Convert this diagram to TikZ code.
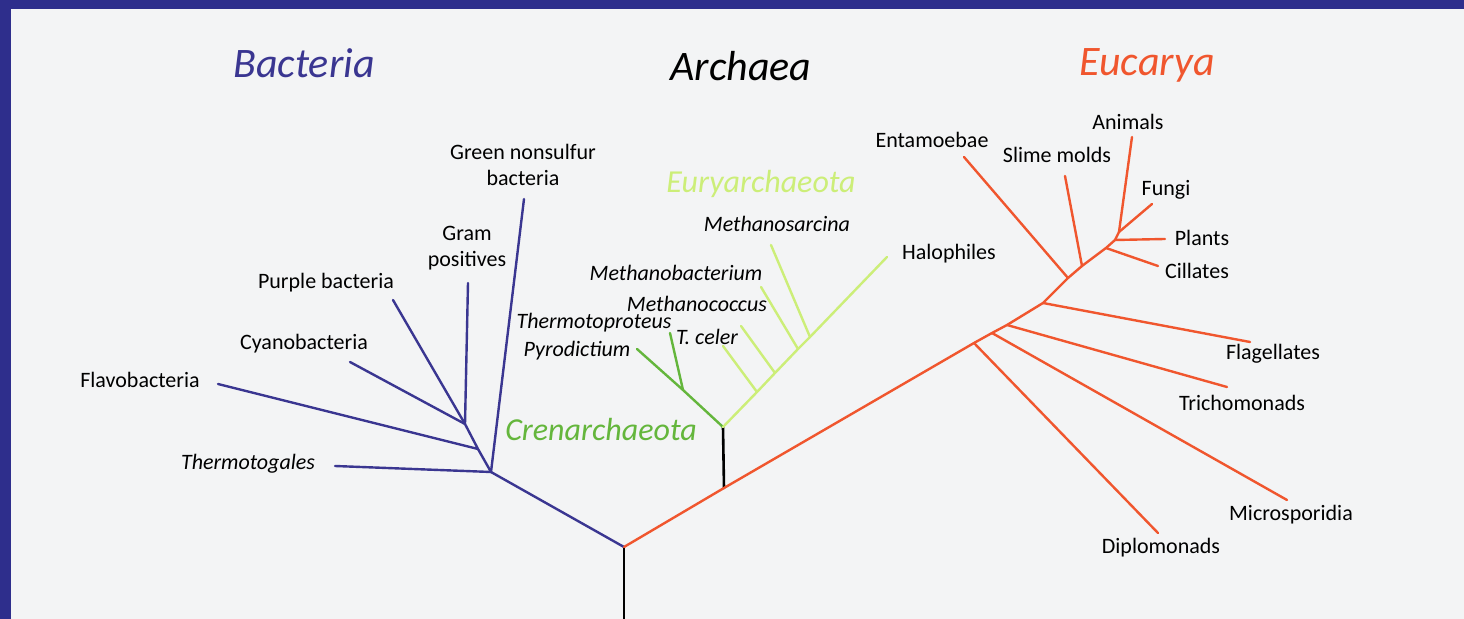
\documentclass[tikz,border=0pt]{standalone}
\usepackage{fontspec}
\setmainfont{Carlito}
\usepackage{xcolor}
\usepackage{tikz}
\usetikzlibrary{positioning, calc}

\definecolor{bactblue}{RGB}{58,54,145}
\definecolor{eukred}{RGB}{240,86,46}
\definecolor{crengreen}{RGB}{100,182,60}
\definecolor{eurygreen}{RGB}{204,238,120}
\definecolor{slidebg}{RGB}{243,244,245}
\definecolor{slideframe}{RGB}{46,46,140}

\begin{document}
\begin{tikzpicture}[x=0.5pt, y=-0.5pt,
    branch/.style={line width=1.2pt, line cap=round, line join=round},
    bact/.style={branch, bactblue},
    euk/.style={branch, eukred},
    cren/.style={branch, crengreen},
    eury/.style={branch, eurygreen},
    stem/.style={branch, black, line width=1.3pt},
    lbl/.style={font=\fontsize{11}{13}\selectfont, align=center, inner sep=0pt},
    ilbl/.style={lbl, font=\fontsize{11}{13}\selectfont\itshape},
    group/.style={font=\fontsize{16}{19}\selectfont\itshape, inner sep=0pt},
    title/.style={font=\fontsize{21}{25}\selectfont\itshape, inner sep=0pt}
  ]

  % --- SLIDE BACKGROUND ---
  \useasboundingbox (0,0) rectangle (1464,619);
  \fill[slidebg] (0,0) rectangle (1464,619);
  \fill[slideframe] (0,0) rectangle (1464,9);
  \fill[slideframe] (0,0) rectangle (11,619);

  % --- DOMAIN TITLES ---
  \node[title, text=bactblue] (tBact) at (304,63) {Bacteria};
  \node[title, text=black] (tArch) at (741,66) {Archaea};
  \node[title, text=eukred] (tEuk) at (1147,65) {Eucarya};

  % --- ROOT ---
  \coordinate (root) at (624,547);
  \coordinate (base) at (624,619);
  \draw[stem] (root) -- (base);

  % --- BACTERIA ---
  \coordinate (b1) at (491,472);
  \coordinate (b2) at (478,449);
  \coordinate (b3) at (465,424);
  \coordinate (thermotogales) at (335,466);
  \coordinate (flavo) at (218,384);
  \coordinate (cyano) at (350,362);
  \coordinate (purple) at (393,300);
  \coordinate (gram) at (468,283);
  \coordinate (greenns) at (524,199);

  \draw[bact] (root) -- (b1) -- (b2) -- (b3);
  \draw[bact] (b1) -- (thermotogales);
  \draw[bact] (b1) -- (greenns);
  \draw[bact] (b2) -- (flavo);
  \draw[bact] (b3) -- (cyano);
  \draw[bact] (b3) -- (purple);
  \draw[bact] (b3) -- (gram);

  \node[ilbl] (lThermotogales) at (248,464) {Thermotogales};
  \node[lbl] (lFlavo) at (140,380) {Flavobacteria};
  \node[lbl] (lCyano) at (304,344) {Cyanobacteria};
  \node[lbl] (lPurple) at (326,283) {Purple bacteria};
  \node[lbl] (lGram) at (467,248) {Gram\\positives};
  \node[lbl] (lGreenns) at (523,165) {Green nonsulfur\\bacteria};

  % --- ARCHAEA ---
  \coordinate (a0) at (724,488);
  \coordinate (a1) at (723,427);
  \draw[stem] (a0) -- (a1);

  % Crenarchaeota
  \coordinate (c1) at (683,390);
  \coordinate (pyro) at (637,349);
  \coordinate (thermoprot) at (670,333);
  \draw[cren] (a1) -- (c1) -- (pyro);
  \draw[cren] (c1) -- (thermoprot);

  % Euryarchaeota
  \coordinate (y1) at (757,392);
  \coordinate (y2) at (775,373);
  \coordinate (y3) at (798,349);
  \coordinate (y4) at (810,337);
  \coordinate (halo) at (887,257);
  \coordinate (tceler) at (723,346);
  \coordinate (mcoccus) at (741,326);
  \coordinate (mbact) at (761,287);
  \coordinate (msarc) at (771,245);
  \draw[eury] (a1) -- (y1) -- (y2) -- (y3) -- (y4) -- (halo);
  \draw[eury] (y1) -- (tceler);
  \draw[eury] (y2) -- (mcoccus);
  \draw[eury] (y3) -- (mbact);
  \draw[eury] (y4) -- (msarc);

  \node[group, text=eurygreen] (gEury) at (761,184) {Euryarchaeota};
  \node[group, text=crengreen] (gCren) at (601,430) {Crenarchaeota};
  \node[ilbl] (lMsarc) at (777,224) {Methanosarcina};
  \node[ilbl] (lMbact) at (676,273) {Methanobacterium};
  \node[ilbl] (lMcoccus) at (697,304) {Methanococcus};
  \node[ilbl] (lThermoprot) at (594,323) {Thermotoproteus};
  \node[ilbl] (lTceler) at (707,337) {T. celer};
  \node[ilbl] (lPyro) at (577,351) {Pyrodictium};
  \node[lbl] (lHalo) at (949,254) {Halophiles};

  % --- EUCARYA ---
  \coordinate (e1) at (974,343);
  \coordinate (e2) at (992,333);
  \coordinate (e3) at (1007,325);
  \coordinate (e4) at (1043,303);
  \coordinate (e5) at (1068,278);
  \coordinate (e6) at (1082,266);
  \coordinate (e7) at (1106,248);
  \coordinate (e8) at (1115,240);
  \coordinate (e9) at (1119,232);
  \coordinate (fungi) at (1152,204);
  \coordinate (animals) at (1132,137);
  \coordinate (plants) at (1165,239);
  \coordinate (cillates) at (1158,266);
  \coordinate (slime) at (1065,176);
  \coordinate (entam) at (964,157);
  \coordinate (flag) at (1250,342);
  \coordinate (trich) at (1227,387);
  \coordinate (micro) at (1287,500);
  \coordinate (diplo) at (1158,533);

  \draw[euk] (root) -- (a0) -- (e1) -- (e2) -- (e3) -- (e4) -- (e5) -- (e6)
    -- (e7) -- (e8) -- (e9) -- (fungi);
  \draw[euk] (e9) -- (animals);
  \draw[euk] (e8) -- (plants);
  \draw[euk] (e7) -- (cillates);
  \draw[euk] (e6) -- (slime);
  \draw[euk] (e5) -- (entam);
  \draw[euk] (e4) -- (flag);
  \draw[euk] (e3) -- (trich);
  \draw[euk] (e2) -- (micro);
  \draw[euk] (e1) -- (diplo);

  \node[lbl] (lEntam) at (932,140) {Entamoebae};
  \node[lbl] (lSlime) at (1057,155) {Slime molds};
  \node[lbl] (lAnimals) at (1128,122) {Animals};
  \node[lbl] (lFungi) at (1166,190) {Fungi};
  \node[lbl] (lPlants) at (1202,238) {Plants};
  \node[lbl] (lCillates) at (1197,271) {Cillates};
  \node[lbl] (lFlag) at (1273,354) {Flagellates};
  \node[lbl] (lTrich) at (1242,403) {Trichomonads};
  \node[lbl] (lMicro) at (1291,515) {Microsporidia};
  \node[lbl] (lDiplo) at (1161,548) {Diplomonads};
\end{tikzpicture}
\end{document}
